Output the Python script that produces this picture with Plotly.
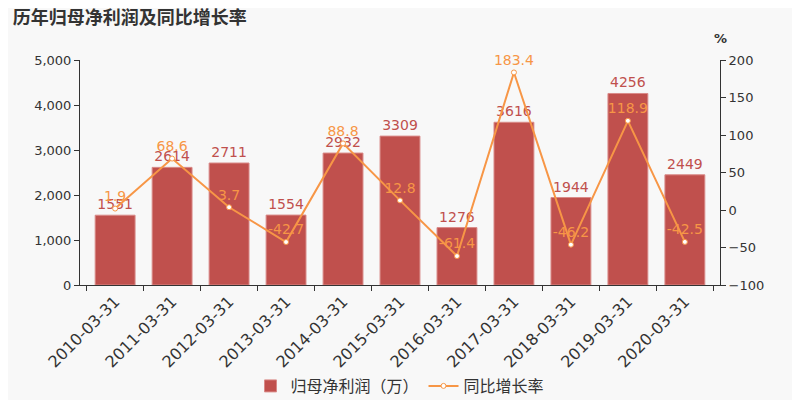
import plotly.graph_objects as go

dates = ["2010-03-31", "2011-03-31", "2012-03-31", "2013-03-31", "2014-03-31",
         "2015-03-31", "2016-03-31", "2017-03-31", "2018-03-31", "2019-03-31",
         "2020-03-31"]
profit = [1551, 2614, 2711, 1554, 2932, 3309, 1276, 3616, 1944, 4256, 2449]
growth = [1.9, 68.6, 3.7, -42.7, 88.8, 12.8, -61.4, 183.4, -46.2, 118.9, -42.5]

bar_color = "#c0504d"
line_color = "#f79646"
font = "DejaVu Sans"

fig = go.Figure()

fig.add_trace(go.Bar(
    x=dates, y=profit, name="归母净利润（万）",
    marker=dict(color=bar_color, line=dict(color="#d98a88", width=1)),
    width=0.7,
    text=[str(v) for v in profit], textposition="outside",
    textfont=dict(color=bar_color, size=14, family=font),
    cliponaxis=False,
))

fig.add_trace(go.Scatter(
    x=dates, y=growth, name="同比增长率", yaxis="y2",
    mode="lines+markers+text",
    line=dict(color=line_color, width=2),
    marker=dict(size=5, color="white", line=dict(color=line_color, width=1)),
    text=[str(v) for v in growth], textposition="top center",
    textfont=dict(color=line_color, size=14, family=font),
    cliponaxis=False,
))

# the page puts the figure 8px in from the top-left corner
fig.update_layout(
    width=800, height=400,
    paper_bgcolor="#f8f8f8", plot_bgcolor="#f8f8f8",
    font=dict(family=font, color="#333333", size=12),
    margin=dict(l=72, r=88, t=52, b=123),
    title=dict(text="<b>历年归母净利润及同比增长率</b>", x=0.006, y=0.975,
               xanchor="left", yanchor="middle",
               font=dict(size=18, color="#333333", family="Noto Sans CJK SC")),
    xaxis=dict(
        type="category", automargin=False,
        showline=True, linecolor="#333333", ticks="outside", tickcolor="#333333",
        tickson="boundaries", ticklen=5, tickangle=-45,
        tickfont=dict(size=16, color="#333333"), showgrid=False,
    ),
    yaxis=dict(
        range=[0, 5000], dtick=1000, tickformat=",d", automargin=False,
        showline=True, linecolor="#333333", ticks="outside", tickcolor="#333333",
        ticklen=5, showgrid=False, zeroline=False,
        tickfont=dict(size=13, color="#333333"),
    ),
    yaxis2=dict(
        range=[-100, 200], dtick=50, overlaying="y", side="right", automargin=False,
        showline=True, linecolor="#333333", ticks="outside", tickcolor="#333333",
        ticklen=5, showgrid=False, zeroline=False,
        tickfont=dict(size=13, color="#333333"),
    ),
    legend=dict(orientation="h", x=0.5, xanchor="center",
                yref="container", y=0.055, yanchor="middle",
                font=dict(size=16, color="#333333", family="Noto Sans CJK SC"),
                bgcolor="rgba(0,0,0,0)"),
    annotations=[dict(text="<b>%</b>", x=1.0, y=1.0, xref="paper", yref="paper",
                      xanchor="center", yanchor="bottom", showarrow=False,
                      yshift=12, font=dict(size=13, color="#333333"))],
)

fig.write_html("out.html")
